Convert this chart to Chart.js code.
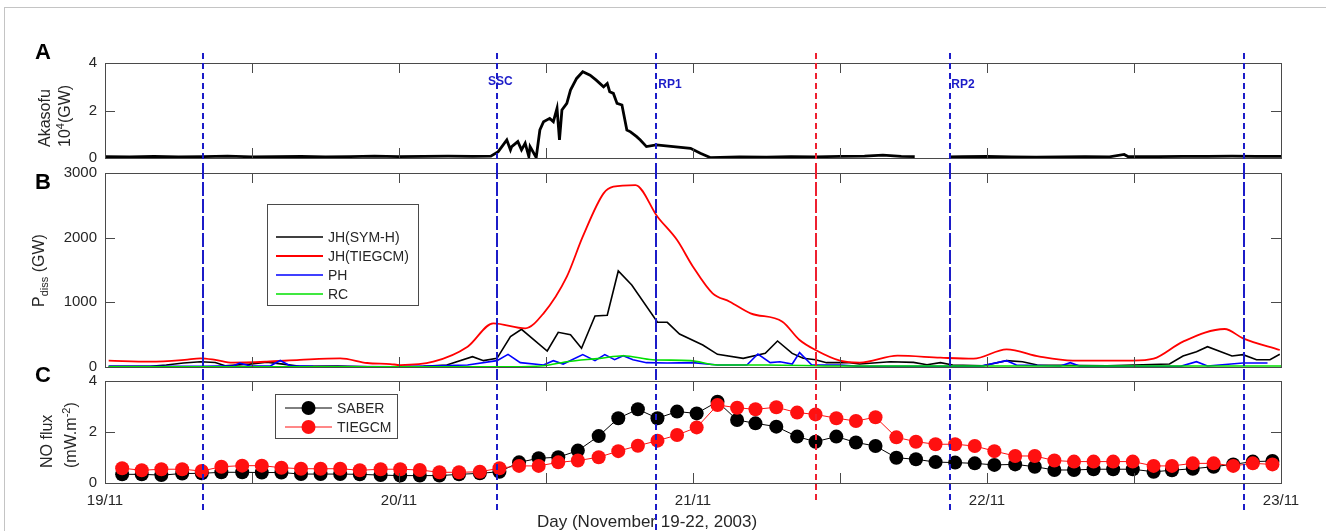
<!DOCTYPE html>
<html>
<head>
<meta charset="utf-8">
<script src="https://cdn.jsdelivr.net/npm/chart.js@4"></script>
<style>
  html, body { margin: 0; padding: 0; background: #fff; }
  #fig { position: relative; width: 1326px; height: 531px; overflow: hidden; font-family: 'Liberation Sans', Arial, sans-serif; }
  #border { position: absolute; left: 4px; top: 7px; width: 1400px; height: 600px; border: 1px solid #c4c4c4; }
  canvas { position: absolute; left: 0; }
  .letter { position: absolute; font-weight: bold; font-size: 22px; line-height: 22px; color: #000; }
</style>
</head>
<body>
<div id="fig">
  <div id="border"></div>
  <canvas id="panelA" width="1326" height="125" style="top:40px"></canvas>
  <canvas id="panelB" width="1326" height="209" style="top:165px"></canvas>
  <canvas id="panelC" width="1326" height="157" style="top:374px"></canvas>
  <div class="letter" style="left:35px;top:41px">A</div>
  <div class="letter" style="left:35px;top:171px">B</div>
  <div class="letter" style="left:35px;top:364px">C</div>
</div>
<script>
// time axis in hours from 19/11 00 UT
const dayLabels = ['19/11', '20/11', '21/11', '22/11', '23/11'];
const minorTickHours = [12, 24, 36, 48, 60, 72, 84];

const eventHours = [8, 32, 45, 58, 69, 93];
const eventNames = ['', 'SSC', 'RP1', '', 'RP2', ''];

// A: Akasofu epsilon (10^4 GW)
const akaHours = [0, 2, 4, 6, 8, 10, 12, 14, 16, 18, 20, 22, 24, 26, 28, 30, 31.5,
  32.1, 32.8, 33.1, 33.2, 33.7, 34.0, 34.3, 34.6, 34.7, 35.2, 35.5, 35.8, 36.3, 36.6, 36.9, 37.1, 37.3, 37.7, 38.0, 38.5,
  39.0, 39.6, 40.1, 40.7, 41.0, 41.2, 41.5, 41.8, 42.2, 42.6, 42.9, 43.4, 43.7, 44.2, 45.0, 46.4, 47.8, 48.6, 49.4,
  51.8, 54, 56, 58, 60, 62, 63.5, 65, 66.1, 66.5, 68.9, 70, 72, 74, 76, 78, 80, 82, 83.2, 83.5, 86, 88, 90, 92, 94, 96];
const akaVals = [0.06, 0.05, 0.07, 0.05, 0.06, 0.08, 0.05, 0.06, 0.07, 0.05, 0.06, 0.08, 0.06, 0.07, 0.08, 0.07, 0.08,
  0.27, 0.76, 0.34, 0.48, 0.69, 0.34, 0.62, 0.06, 0.48, 0.02, 1.18, 1.53, 1.67, 1.53, 2.09, 0.76, 2.02, 2.3, 2.86, 3.35,
  3.63, 3.49, 3.28, 3.0, 3.14, 2.79, 2.72, 2.3, 2.23, 1.18, 1.1, 0.9, 0.76, 0.48, 0.55, 0.48, 0.41, 0.2, 0.02,
  0.05, 0.04, 0.06, 0.05, 0.07, 0.08, 0.12, 0.07, 0.06, null, 0.05, 0.06, 0.07, 0.05, 0.04, 0.05, 0.06, 0.05, 0.15, 0.06, 0.06, 0.07, 0.07, 0.08, 0.07, 0.07];

// B: dissipated power (GW)
const jhSymHours = [0.3, 3.7, 5.0, 6.4, 7.8, 9.0, 9.8, 11.8, 13.2, 14.7, 15.9, 19.0, 21.5, 24.1, 26.0, 27.9, 30.0, 30.9, 32.0, 33.1,
  34.0, 36.1, 37.0, 38.0, 38.9, 40.0, 41.0, 41.9, 43.0, 45.1, 45.9, 46.9, 48.8, 50.0, 52.1, 53.9, 54.9, 56.1, 57.0, 58.0,
  58.9, 60.8, 61.6, 64.1, 66.0, 67.1, 68.2, 69.2, 71.7, 73.6, 74.9, 76.1, 81.8, 86.9, 88.0, 89.1, 90.0, 92.0, 92.9, 94.0, 95.1, 95.9];
const jhSymVals = [10, 10, 30, 62, 82, 70, 20, 45, 75, 40, 10, 15, 5, 0, 10, 31, 160, 98, 134, 469,
  583, 247, 536, 500, 289, 789, 800, 1485, 1268, 691, 691, 510, 340, 196, 134, 211, 402, 211, 134, 113,
  67, 67, 46, 82, 72, 36, 67, 31, 20, 98, 82, 31, 20, 46, 170, 237, 314, 170, 191, 113, 113, 196];

const jhTieHours = [0.3, 3.7, 6.5, 7.8, 9.0, 10.4, 13.2, 15.9, 19.2, 21.4, 23.3, 24.1, 26.8, 29.6, 31.7, 34.3, 35.8, 37.7, 39.0, 40.7,
  41.5, 43.3, 45.1, 46.7, 48.0, 49.6, 51.0, 52.7, 55.3, 56.7, 58.0, 60.0, 61.6, 64.7, 68.2, 70.9, 73.6, 76.3, 79.0, 83.9,
  85.6, 88.0, 91.4, 92.9, 95.9];
const jhTieVals = [98, 82, 110, 134, 110, 67, 82, 110, 134, 62, 46, 30, 82, 314, 675, 598, 830, 1397, 2015, 2685,
  2788, 2814, 2324, 1963, 1551, 1139, 1010, 830, 700, 417, 263, 98, 67, 175, 144, 128, 273, 160, 98, 98,
  128, 392, 588, 443, 263];

const phHours = [0.3, 8.0, 10.5, 11.0, 11.8, 13.5, 14.3, 15.1, 17.0, 24.0, 29.6, 32.0, 32.9, 33.9, 35.8, 36.6, 37.4, 39.0, 40.0, 40.8,
  41.6, 42.3, 43.1, 44.2, 45.9, 48.0, 50.0, 52.4, 53.3, 54.3, 55.1, 56.1, 56.7, 57.7, 60.0, 61.6, 71.4, 73.6, 74.4, 78.0,
  78.8, 79.6, 87.8, 89.1, 90.0, 92.9, 94.9];
const phVals = [10, 10, 20, 60, 20, 15, 100, 20, 10, 5, 31, 98, 196, 67, 31, 98, 46, 191, 98, 191,
  113, 175, 113, 67, 62, 67, 31, 31, 201, 67, 82, 46, 222, 31, 31, 10, 10, 98, 31, 15,
  67, 10, 10, 82, 15, 62, 62];

const rcHours = [0.3, 24.0, 33.1, 35.8, 37.7, 40.4, 42.3, 44.7, 47.8, 50.0, 54.0, 60.0, 96.0];
const rcVals = [5, 5, 5, 20, 82, 134, 175, 113, 98, 31, 31, 15, 15];

// C: NO cooling flux (mW m-2)
const noHours = [1.4, 3.0, 4.6, 6.3, 7.9, 9.5, 11.2, 12.8, 14.4, 16.0, 17.6, 19.2, 20.8, 22.5, 24.1, 25.7, 27.3, 28.9, 30.6, 32.2,
  33.8, 35.4, 37.0, 38.6, 40.3, 41.9, 43.5, 45.1, 46.7, 48.3, 50.0, 51.6, 53.1, 54.8, 56.5, 58.0, 59.7, 61.3, 62.9, 64.6,
  66.2, 67.8, 69.4, 71.0, 72.6, 74.3, 75.9, 77.5, 79.1, 80.7, 82.3, 83.9, 85.6, 87.1, 88.8, 90.5, 92.1, 93.7, 95.3];
const saberVals = [0.34, 0.34, 0.31, 0.37, 0.38, 0.42, 0.42, 0.41, 0.41, 0.35, 0.35, 0.35, 0.34, 0.31, 0.29, 0.29, 0.29, 0.34, 0.38, 0.44,
  0.81, 0.97, 1.01, 1.27, 1.84, 2.54, 2.89, 2.54, 2.80, 2.73, 3.19, 2.47, 2.34, 2.21, 1.82, 1.62, 1.82, 1.59, 1.45, 0.99,
  0.93, 0.82, 0.80, 0.77, 0.71, 0.73, 0.64, 0.51, 0.51, 0.54, 0.54, 0.54, 0.44, 0.50, 0.56, 0.64, 0.73, 0.84, 0.86];
const tiegcmVals = [0.58, 0.50, 0.54, 0.54, 0.47, 0.64, 0.68, 0.68, 0.60, 0.56, 0.56, 0.56, 0.50, 0.54, 0.54, 0.51, 0.42, 0.42, 0.44, 0.58,
  0.67, 0.67, 0.81, 0.88, 1.01, 1.25, 1.46, 1.66, 1.88, 2.18, 3.06, 2.95, 2.89, 2.97, 2.76, 2.69, 2.54, 2.43, 2.58, 1.79,
  1.62, 1.52, 1.52, 1.45, 1.25, 1.06, 1.06, 0.88, 0.84, 0.84, 0.84, 0.84, 0.67, 0.67, 0.77, 0.77, 0.67, 0.77, 0.73];

const FONT = "'Liberation Sans', Arial, sans-serif";
const INK = '#262626';
const AXIS = '#4a4a4a';
const BLUE = '#1c1cc8';
const RED = '#ee2030';

const pts = (xs, ys) => xs.map((x, i) => ({ x: x, y: ys[i] }));

// rotated axis label, written bottom-to-top starting at (x, yBottom)
function drawVertical(ctx, x, yBottom, parts) {
  ctx.save();
  ctx.translate(x, yBottom);
  ctx.rotate(-Math.PI / 2);
  ctx.textAlign = 'left';
  ctx.textBaseline = 'middle';
  ctx.fillStyle = INK;
  let cx = 0;
  parts.forEach(p => {
    ctx.font = p[1] + 'px ' + FONT;
    ctx.fillText(p[0], cx, p[2]);
    cx += ctx.measureText(p[0]).width;
  });
  ctx.restore();
}

// frame, inward ticks, event lines, legend and labels for one panel
function decor(cfg) {
  return {
    id: 'decor',
    afterDraw(chart) {
      const ctx = chart.ctx, a = chart.chartArea;
      const xs = chart.scales.x, ys = chart.scales.y;
      ctx.save();

      // box + inward ticks
      ctx.strokeStyle = AXIS;
      ctx.lineWidth = 1;
      ctx.setLineDash([]);
      ctx.strokeRect(a.left + 0.5, a.top + 0.5, a.right - a.left, a.bottom - a.top);
      ctx.beginPath();
      minorTickHours.forEach(h => {
        const px = Math.round(xs.getPixelForValue(h)) + 0.5;
        ctx.moveTo(px, a.top); ctx.lineTo(px, a.top + 10);
        ctx.moveTo(px, a.bottom); ctx.lineTo(px, a.bottom - 10);
      });
      ys.ticks.forEach(t => {
        if (t.value === ys.min || t.value === ys.max) return;
        const py = Math.round(ys.getPixelForValue(t.value)) + 0.5;
        ctx.moveTo(a.left, py); ctx.lineTo(a.left + 10, py);
        ctx.moveTo(a.right, py); ctx.lineTo(a.right - 10, py);
      });
      ctx.stroke();

      // x axis title
      if (cfg.xTitle) {
        ctx.fillStyle = INK;
        ctx.font = '17px ' + FONT;
        ctx.textAlign = 'left';
        ctx.textBaseline = 'alphabetic';
        ctx.fillText(cfg.xTitle, 537, 153);
      }

      // event lines
      ctx.lineWidth = 2;
      ctx.setLineDash(cfg.dash);
      eventHours.forEach((h, i) => {
        const px = Math.round(xs.getPixelForValue(h));
        ctx.strokeStyle = i === 3 ? RED : BLUE;
        const top = cfg.lineTop || 0;
        const bottom = cfg.lineBottom ? cfg.lineBottom[i] : chart.height;
        ctx.beginPath();
        ctx.moveTo(px, top);
        ctx.lineTo(px, bottom);
        ctx.stroke();
      });
      ctx.setLineDash([]);

      if (cfg.eventText) {
        ctx.fillStyle = BLUE;
        ctx.font = 'bold 12px ' + FONT;
        ctx.textAlign = 'left';
        ctx.textBaseline = 'alphabetic';
        const dx = [0, -9, 2, 0, 1, 0];
        const by = [0, 45, 48, 0, 48, 0];
        eventNames.forEach((n, i) => {
          if (!n) return;
          ctx.fillText(n, xs.getPixelForValue(eventHours[i]) + dx[i], by[i]);
        });
      }

      // legend box
      if (cfg.legend) {
        const L = cfg.legend;
        ctx.fillStyle = '#fff';
        ctx.fillRect(L.box[0], L.box[1], L.box[2], L.box[3]);
        ctx.strokeStyle = AXIS;
        ctx.lineWidth = 1;
        ctx.strokeRect(L.box[0] + 0.5, L.box[1] + 0.5, L.box[2], L.box[3]);
        chart.data.datasets.forEach((ds, i) => {
          const y = L.rows[i];
          ctx.strokeStyle = ds.borderColor;
          ctx.lineWidth = ds.borderWidth;
          ctx.beginPath();
          ctx.moveTo(L.line[0], y); ctx.lineTo(L.line[1], y);
          ctx.stroke();
          if (ds.pointRadius) {
            ctx.fillStyle = ds.pointBackgroundColor;
            ctx.beginPath();
            ctx.arc((L.line[0] + L.line[1]) / 2, y, ds.pointRadius, 0, Math.PI * 2);
            ctx.fill();
          }
          ctx.fillStyle = INK;
          ctx.font = '14px ' + FONT;
          ctx.textAlign = 'left';
          ctx.textBaseline = 'middle';
          ctx.fillText(ds.label, L.textX, y + 1);
        });
      }

      // y axis titles
      cfg.yTitle.forEach(t => drawVertical(ctx, t.x, cfg.yTitleBottom, t.parts));
      ctx.restore();
    }
  };
}

function yScale(min, max, step) {
  return {
    min: min, max: max,
    ticks: { stepSize: step, color: INK, padding: 8, font: { size: 15, family: FONT }, callback: v => String(v) },
    grid: { display: false, drawTicks: false },
    border: { display: false },
    afterFit: s => { s.width = 105; s.paddingTop = 0; s.paddingBottom = 0; }
  };
}

function xHidden() {
  return { type: 'linear', min: 0, max: 96, display: false };
}

function baseOptions(padTop, padBottom) {
  return {
    responsive: false,
    animation: false,
    events: [],
    layout: { padding: { left: 0, right: 45, top: padTop, bottom: padBottom } },
    plugins: { legend: { display: false }, tooltip: { enabled: false } }
  };
}

// ---- panel A
const optA = baseOptions(23, 7);
optA.scales = { x: xHidden(), y: yScale(0, 4, 2) };
new Chart(document.getElementById('panelA'), {
  type: 'line',
  data: {
    datasets: [{
      label: 'Akasofu',
      data: pts(akaHours, akaVals),
      borderColor: '#000',
      borderWidth: 2.8,
      pointRadius: 0,
      spanGaps: false
    }]
  },
  options: optA,
  plugins: [decor({
    dash: [6, 4],
    lineTop: 13,
    eventText: true,
    yTitleBottom: 107,
    yTitle: [
      { x: 46, parts: [['Akasofu', 16, 0]] },
      { x: 66, parts: [['10', 16, 0], ['4', 11, -5], ['(GW)', 16, 0]] }
    ]
  })]
});

// ---- panel B
const optB = baseOptions(8, 7);
optB.scales = { x: xHidden(), y: yScale(0, 3000, 1000) };
new Chart(document.getElementById('panelB'), {
  type: 'line',
  data: {
    datasets: [
      { label: 'JH(SYM-H)', data: pts(jhSymHours, jhSymVals), borderColor: '#000', borderWidth: 1.6, pointRadius: 0, order: 4 },
      { label: 'JH(TIEGCM)', data: pts(jhTieHours, jhTieVals), borderColor: '#ff0000', borderWidth: 1.8, pointRadius: 0, cubicInterpolationMode: 'monotone', order: 3 },
      { label: 'PH', data: pts(phHours, phVals), borderColor: '#0000ff', borderWidth: 1.6, pointRadius: 0, order: 2 },
      { label: 'RC', data: pts(rcHours, rcVals), borderColor: '#00e000', borderWidth: 1.6, pointRadius: 0, cubicInterpolationMode: 'monotone', order: 1 }
    ]
  },
  options: optB,
  plugins: [decor({
    dash: [14, 3],
    legend: { box: [267, 39, 151, 101], rows: [72, 91, 110, 129], line: [276, 323], textX: 328 },
    yTitleBottom: 142,
    yTitle: [
      { x: 40, parts: [['P', 16, 0], ['diss', 11, 5], [' (GW)', 16, 0]] }
    ]
  })]
});

// ---- panel C
const optC = baseOptions(7, 0);
optC.scales = {
  x: {
    type: 'linear', min: 0, max: 96,
    ticks: {
      stepSize: 24, autoSkip: false, maxRotation: 0, padding: 9, color: INK,
      font: { size: 15, family: FONT },
      callback: v => dayLabels[v / 24]
    },
    grid: { display: false, drawTicks: false },
    border: { display: false },
    afterFit: s => { s.height = 48; s.paddingLeft = 0; s.paddingRight = 0; }
  },
  y: yScale(0, 4, 2)
};
new Chart(document.getElementById('panelC'), {
  type: 'line',
  data: {
    datasets: [
      { label: 'SABER', data: pts(noHours, saberVals), borderColor: '#000', borderWidth: 1, pointRadius: 7, pointBorderWidth: 0, pointBackgroundColor: '#000', order: 2 },
      { label: 'TIEGCM', data: pts(noHours, tiegcmVals), borderColor: '#ff1010', borderWidth: 1, pointRadius: 7, pointBorderWidth: 0, pointBackgroundColor: '#ff1010', order: 1 }
    ]
  },
  options: optC,
  plugins: [decor({
    dash: [6, 4],
    lineBottom: [136, 136, 157, 128, 136, 136],
    xTitle: 'Day (November 19-22, 2003)',
    legend: { box: [275, 20, 122, 44], rows: [34, 53], line: [285, 332], textX: 337 },
    yTitleBottom: 94,
    yTitle: [
      { x: 48, parts: [['NO flux', 16, 0]] },
      { x: 72, parts: [['(mW.m', 16, 0], ['-2', 11, -5], [')', 16, 0]] }
    ]
  })]
});
</script>
</body>
</html>
